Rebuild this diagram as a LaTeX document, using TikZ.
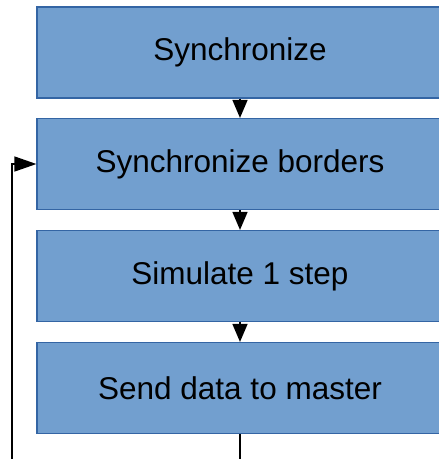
\documentclass[tikz,border=0pt]{standalone}
\usepackage{fontspec}
\setmainfont{Liberation Sans}
\usetikzlibrary{arrows.meta}
\usepackage{xcolor}
\definecolor{boxfill}{HTML}{729FCF}
\definecolor{boxline}{HTML}{3465A4}

\begin{document}
\begin{tikzpicture}[x=1pt,y=-1pt,
  stepbox/.style={draw=boxline,fill=boxfill,line width=1.2pt,minimum width=406pt,
    minimum height=91pt,inner sep=0pt,font=\fontsize{31.5}{38}\selectfont},
  flow/.style={line width=1.4pt,-{Triangle[length=18pt,width=15pt]}}]
  \useasboundingbox (0,0) rectangle (439,459);
  \clip (0,0) rectangle (439,459);
  \node[stepbox] (sync) at (240,52.5){Synchronize};
  \node[stepbox] (borders) at (240,164){Synchronize borders};
  \node[stepbox] (simulate) at (240,276){Simulate 1 step};
  \node[stepbox] (send) at (240,388){Send data to master};
  \coordinate (loopin) at (12,459);
  \coordinate (out) at (240,459);
  \draw[flow] (sync) -- (borders);
  \draw[flow] (borders) -- (simulate);
  \draw[flow] (simulate) -- (send);
  \draw[line width=1.4pt] (send) -- (out);
  \draw[line width=1.4pt,-{Triangle[length=22pt,width=15pt]}] (loopin) |- (borders.west);
\end{tikzpicture}
\end{document}
